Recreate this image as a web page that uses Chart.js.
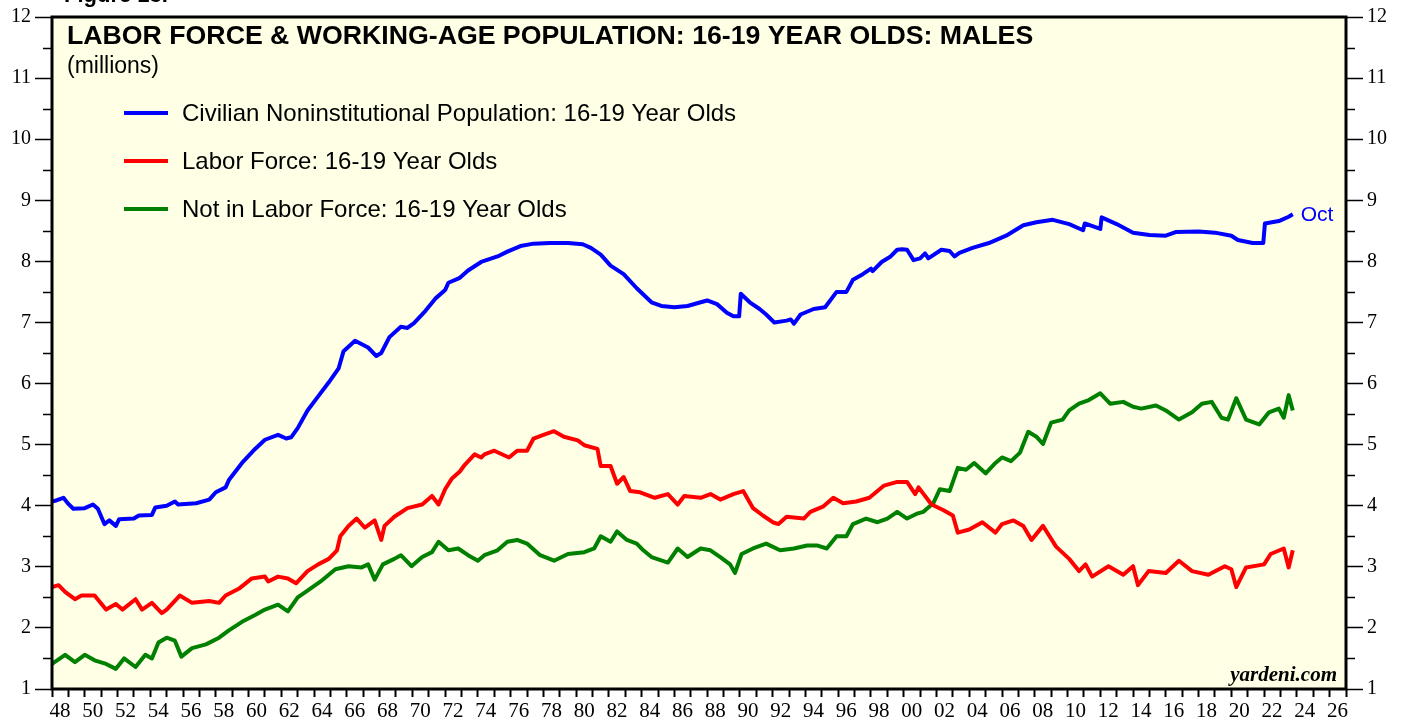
<!DOCTYPE html>
<html lang="en">
<head>
<meta charset="UTF-8">
<title>Labor Force & Working-Age Population: 16-19 Year Olds: Males</title>
<script src="https://cdn.jsdelivr.net/npm/chart.js"></script>
<style>
  body { margin: 0; background: #fff; }
</style>
</head>
<body>
<canvas id="laborChart" width="1407" height="719"></canvas>
<script>
// Millions. Dates are decimal years (Jan 1948 .. Oct 2023)
const popDates = [1948.0, 1948.3, 1948.7, 1949.0, 1949.3, 1950.0, 1950.5, 1950.8, 1951.2, 1951.5,
  1951.9, 1952.1, 1953.0, 1953.3, 1954.1, 1954.3, 1955.0, 1955.5, 1955.7, 1956.8,
  1957.6, 1958.0, 1958.6, 1958.8, 1959.6, 1960.4, 1961.0, 1961.8, 1962.3, 1962.6,
  1963.0, 1963.6, 1964.25, 1964.9, 1965.5, 1965.8, 1966.5, 1967.3, 1967.8, 1968.1,
  1968.6, 1969.3, 1969.7, 1970.1, 1970.8, 1971.4, 1972.0, 1972.2, 1972.9, 1973.4,
  1974.2, 1975.2, 1975.8, 1976.6, 1977.4, 1978.4, 1979.5, 1980.4, 1980.9, 1981.5,
  1982.1, 1982.9, 1983.7, 1984.6, 1985.2, 1986.0, 1986.8, 1987.6, 1988.0, 1988.6,
  1989.2, 1989.6, 1989.95, 1990.05, 1990.6, 1991.2, 1991.6, 1992.1, 1992.85, 1993.1,
  1993.3, 1993.7, 1994.5, 1995.2, 1995.9, 1996.5, 1996.9, 1997.5, 1998.0, 1998.1,
  1998.65, 1999.2, 1999.6, 1999.9, 2000.2, 2000.6, 2001.0, 2001.3, 2001.5, 2002.3,
  2002.8, 2003.1, 2003.4, 2004.2, 2005.2, 2006.25, 2007.3, 2008.1, 2009.1, 2010.1,
  2010.95, 2011.05, 2012.0, 2012.08, 2013.0, 2014.0, 2015.0, 2016.0, 2016.6, 2018.0,
  2019.0, 2020.0, 2020.4, 2021.3, 2021.95, 2022.05, 2022.9, 2023.5, 2023.75];
const popValues = [4.07, 4.09, 4.13, 4.03, 3.95, 3.96, 4.02, 3.95, 3.70, 3.76,
  3.67, 3.78, 3.79, 3.84, 3.85, 3.97, 4.00, 4.07, 4.02, 4.04,
  4.10, 4.22, 4.30, 4.42, 4.70, 4.93, 5.08, 5.16, 5.10, 5.12,
  5.27, 5.56, 5.79, 6.02, 6.25, 6.53, 6.70, 6.59, 6.45, 6.50,
  6.76, 6.93, 6.91, 6.99, 7.19, 7.39, 7.53, 7.65, 7.73, 7.85,
  7.99, 8.08, 8.16, 8.25, 8.29, 8.30, 8.30, 8.28, 8.22, 8.11,
  7.93, 7.79, 7.56, 7.33, 7.27, 7.25, 7.27, 7.33, 7.36, 7.30,
  7.16, 7.10, 7.10, 7.47, 7.33, 7.22, 7.13, 7.00, 7.03, 7.05,
  6.98, 7.13, 7.22, 7.25, 7.50, 7.50, 7.70, 7.79, 7.88, 7.84,
  7.99, 8.08, 8.19, 8.20, 8.19, 8.02, 8.05, 8.13, 8.05, 8.19,
  8.17, 8.08, 8.14, 8.22, 8.30, 8.42, 8.59, 8.64, 8.68, 8.61,
  8.51, 8.62, 8.53, 8.72, 8.61, 8.47, 8.43, 8.42, 8.48, 8.49,
  8.47, 8.42, 8.35, 8.30, 8.30, 8.62, 8.66, 8.73, 8.77];

const lfDates = [1948.0, 1948.4, 1948.8, 1949.4, 1949.8, 1950.6, 1951.3, 1951.9, 1952.3, 1953.1,
  1953.5, 1954.1, 1954.7, 1955.0, 1955.8, 1956.55, 1957.6, 1958.2, 1958.6, 1959.4,
  1960.2, 1961.0, 1961.2, 1961.8, 1962.4, 1962.9, 1963.6, 1964.25, 1964.9, 1965.4,
  1965.6, 1966.1, 1966.6, 1967.1, 1967.7, 1968.1, 1968.3, 1968.9, 1969.7, 1970.6,
  1971.2, 1971.6, 1972.0, 1972.4, 1972.9, 1973.2, 1973.8, 1974.2, 1974.4, 1975.0,
  1975.9, 1976.4, 1977.0, 1977.4, 1978.0, 1978.65, 1979.25, 1980.1, 1980.5, 1981.3,
  1981.5, 1982.1, 1982.5, 1982.9, 1983.3, 1983.9, 1984.8, 1985.6, 1986.2, 1986.6,
  1987.6, 1988.2, 1988.8, 1989.6, 1990.2, 1990.8, 1991.4, 1992.0, 1992.35, 1992.85,
  1993.9, 1994.3, 1995.1, 1995.7, 1996.3, 1997.1, 1997.9, 1998.8, 1999.6, 2000.2,
  2000.7, 2000.9, 2001.7, 2002.4, 2003.0, 2003.3, 2004.0, 2004.8, 2005.6, 2006.0,
  2006.7, 2007.3, 2007.8, 2008.5, 2008.9, 2009.3, 2010.1, 2010.7, 2011.1, 2011.5,
  2012.5, 2013.4, 2014.0, 2014.3, 2014.95, 2016.0, 2016.8, 2017.6, 2018.6, 2019.6,
  2020.0, 2020.3, 2020.9, 2022.0, 2022.4, 2023.2, 2023.5, 2023.75];
const lfValues = [2.67, 2.70, 2.59, 2.47, 2.53, 2.53, 2.30, 2.39, 2.30, 2.47,
  2.30, 2.41, 2.24, 2.30, 2.53, 2.41, 2.44, 2.41, 2.53, 2.64,
  2.81, 2.84, 2.76, 2.84, 2.81, 2.73, 2.93, 3.04, 3.13, 3.27,
  3.50, 3.67, 3.79, 3.64, 3.76, 3.44, 3.67, 3.82, 3.96, 4.02,
  4.16, 4.02, 4.27, 4.44, 4.56, 4.67, 4.84, 4.79, 4.84, 4.90,
  4.79, 4.90, 4.90, 5.10, 5.16, 5.22, 5.13, 5.07, 4.99, 4.93,
  4.65, 4.65, 4.36, 4.47, 4.24, 4.22, 4.13, 4.19, 4.02, 4.16,
  4.13, 4.19, 4.10, 4.19, 4.24, 3.96, 3.84, 3.73, 3.70, 3.82,
  3.79, 3.90, 3.99, 4.13, 4.04, 4.07, 4.13, 4.33, 4.39, 4.39,
  4.19, 4.30, 4.02, 3.93, 3.84, 3.56, 3.61, 3.73, 3.56, 3.70,
  3.76, 3.67, 3.44, 3.67, 3.50, 3.33, 3.13, 2.93, 3.04, 2.84,
  3.01, 2.87, 3.01, 2.70, 2.93, 2.90, 3.10, 2.93, 2.87, 3.01,
  2.96, 2.67, 2.99, 3.04, 3.21, 3.30, 2.99, 3.27];

const nlfDates = [1948.0, 1948.8, 1949.4, 1950.0, 1950.6, 1951.3, 1951.9, 1952.4, 1953.1, 1953.7,
  1954.1, 1954.5, 1955.0, 1955.5, 1955.9, 1956.55, 1957.4, 1958.2, 1958.8, 1959.6,
  1960.4, 1961.0, 1961.8, 1962.4, 1963.0, 1963.6, 1964.4, 1965.3, 1966.1, 1966.9,
  1967.3, 1967.7, 1968.2, 1968.9, 1969.3, 1969.95, 1970.6, 1971.2, 1971.6, 1972.2,
  1972.8, 1973.4, 1974.0, 1974.4, 1975.2, 1975.8, 1976.4, 1977.0, 1977.8, 1978.65,
  1979.5, 1980.5, 1981.1, 1981.5, 1982.1, 1982.5, 1983.1, 1983.7, 1984.1, 1984.6,
  1985.6, 1986.2, 1986.8, 1987.6, 1988.2, 1988.8, 1989.4, 1989.7, 1990.1, 1990.8,
  1991.6, 1992.45, 1993.3, 1994.1, 1994.7, 1995.3, 1995.9, 1996.5, 1996.9, 1997.7,
  1998.4, 1999.0, 1999.6, 2000.2, 2000.8, 2001.2, 2001.8, 2002.2, 2002.8, 2003.3,
  2003.8, 2004.3, 2005.0, 2005.6, 2006.0, 2006.55, 2007.1, 2007.6, 2008.1, 2008.5,
  2009.0, 2009.7, 2010.1, 2010.7, 2011.3, 2012.0, 2012.6, 2013.4, 2014.0, 2014.5,
  2015.4, 2016.0, 2016.8, 2017.6, 2018.2, 2018.8, 2019.4, 2019.8, 2020.3, 2020.9,
  2021.7, 2022.3, 2022.9, 2023.2, 2023.5, 2023.75];
const nlfValues = [1.41, 1.56, 1.44, 1.56, 1.47, 1.41, 1.33, 1.50, 1.36, 1.56,
  1.50, 1.76, 1.84, 1.79, 1.53, 1.67, 1.73, 1.84, 1.96, 2.10,
  2.21, 2.30, 2.38, 2.27, 2.50, 2.61, 2.76, 2.96, 3.01, 2.99,
  3.04, 2.79, 3.04, 3.13, 3.19, 3.01, 3.16, 3.24, 3.41, 3.27,
  3.30, 3.19, 3.10, 3.19, 3.27, 3.41, 3.44, 3.38, 3.19, 3.10,
  3.21, 3.24, 3.30, 3.50, 3.41, 3.58, 3.44, 3.38, 3.27, 3.16,
  3.07, 3.30, 3.16, 3.30, 3.27, 3.16, 3.04, 2.90, 3.21, 3.30,
  3.38, 3.27, 3.30, 3.35, 3.35, 3.30, 3.50, 3.50, 3.70, 3.79,
  3.73, 3.79, 3.90, 3.79, 3.87, 3.90, 4.04, 4.27, 4.24, 4.62,
  4.59, 4.70, 4.53, 4.70, 4.79, 4.73, 4.87, 5.21, 5.13, 5.01,
  5.36, 5.41, 5.56, 5.67, 5.73, 5.84, 5.67, 5.70, 5.62, 5.59,
  5.64, 5.56, 5.41, 5.53, 5.67, 5.70, 5.44, 5.41, 5.76, 5.41,
  5.33, 5.53, 5.59, 5.44, 5.81, 5.56];

const seriesLabels = [
  'Civilian Noninstitutional Population: 16-19 Year Olds',
  'Labor Force: 16-19 Year Olds',
  'Not in Labor Force: 16-19 Year Olds'
];
const seriesColors = ['#0000ff', '#ff0000', '#008000'];

const SANS = '"Liberation Sans", Arial, sans-serif';
const SERIF = '"Liberation Serif", "Times New Roman", serif';

function toPoints(dates, values) {
  return dates.map((d, i) => ({ x: d, y: values[i] }));
}

// background, frame, minor ticks, title, legend and notes
const decorations = {
  id: 'decorations',
  beforeDraw(chart) {
    const { ctx, chartArea: a } = chart;
    ctx.save();
    ctx.fillStyle = '#ffffe6';
    ctx.fillRect(a.left, a.top, a.right - a.left, a.bottom - a.top);
    ctx.restore();
  },
  afterDraw(chart) {
    const { ctx, chartArea: a } = chart;
    const y = chart.scales.y;
    ctx.save();

    // half-unit ticks on both value axes
    ctx.strokeStyle = '#000';
    ctx.lineWidth = 1.5;
    for (let v = 1.5; v < 12; v += 1) {
      const py = Math.round(y.getPixelForValue(v)) + 0.5;
      ctx.beginPath();
      ctx.moveTo(a.left - 9, py); ctx.lineTo(a.left, py);
      ctx.moveTo(a.right, py); ctx.lineTo(a.right + 9, py);
      ctx.stroke();
    }

    // frame
    ctx.lineWidth = 3;
    ctx.strokeRect(a.left, a.top, a.right - a.left, a.bottom - a.top);

    ctx.fillStyle = '#000';
    ctx.textBaseline = 'alphabetic';
    ctx.textAlign = 'left';
    ctx.font = 'bold 22px ' + SANS;
    ctx.fillText('Figure 13.', 64, 2);

    ctx.textBaseline = 'middle';
    ctx.font = 'bold 26.7px ' + SANS;
    ctx.fillText('LABOR FORCE & WORKING-AGE POPULATION: 16-19 YEAR OLDS: MALES', 67, 37);
    ctx.font = '23px ' + SANS;
    ctx.fillText('(millions)', 67, 67);

    // legend
    const rows = [113, 161, 209];
    ctx.font = '24px ' + SANS;
    chart.data.datasets.forEach((ds, i) => {
      ctx.strokeStyle = ds.borderColor;
      ctx.lineWidth = 4;
      ctx.beginPath();
      ctx.moveTo(124, rows[i]); ctx.lineTo(168, rows[i]);
      ctx.stroke();
      ctx.fillStyle = '#000';
      ctx.fillText(ds.label, 182, rows[i] + 1);
    });

    // last observation label
    const last = chart.getDatasetMeta(0).data.slice(-1)[0];
    ctx.fillStyle = seriesColors[0];
    ctx.font = '21px ' + SANS;
    ctx.fillText('Oct', last.x + 8, last.y + 1);

    ctx.fillStyle = '#000';
    ctx.textAlign = 'right';
    ctx.textBaseline = 'alphabetic';
    ctx.font = 'italic bold 21px ' + SERIF;
    ctx.fillText('yardeni.com', a.right - 9, a.bottom - 8);
    ctx.restore();
  }
};

const valueAxis = (position, width) => ({
  type: 'linear',
  position: position,
  min: 1,
  max: 12,
  afterFit(scale) { scale.width = width; },
  ticks: { stepSize: 1, padding: 4, color: '#000', font: { family: SERIF, size: 20 } },
  grid: { drawOnChartArea: false, tickLength: 17, tickColor: '#000', tickWidth: 1.5 },
  border: { display: false }
});

new Chart(document.getElementById('laborChart'), {
  type: 'line',
  data: {
    datasets: [
      { label: seriesLabels[0], data: toPoints(popDates, popValues), borderColor: seriesColors[0] },
      { label: seriesLabels[1], data: toPoints(lfDates, lfValues), borderColor: seriesColors[1] },
      { label: seriesLabels[2], data: toPoints(nlfDates, nlfValues), borderColor: seriesColors[2] }
    ]
  },
  options: {
    responsive: false,
    animation: false,
    devicePixelRatio: 1,
    layout: { padding: { top: 17, left: 0, right: 0, bottom: 0 } },
    elements: {
      point: { radius: 0 },
      line: { borderWidth: 4, tension: 0, borderJoinStyle: 'round' }
    },
    plugins: { legend: { display: false }, tooltip: { enabled: false } },
    scales: {
      x: {
        type: 'linear',
        min: 1948,
        max: 2027,
        afterFit(scale) { scale.height = 30; },
        ticks: {
          stepSize: 1,
          maxTicksLimit: 200,
          autoSkip: false,
          maxRotation: 0,
          labelOffset: 8,
          padding: 2,
          color: '#000',
          font: { family: SERIF, size: 21 },
          callback: v => (v % 2 === 0 ? String(v).slice(2) : '')
        },
        grid: { drawOnChartArea: false, tickLength: 8, tickColor: '#000', tickWidth: 2 },
        border: { display: false }
      },
      y: valueAxis('left', 52),
      y2: valueAxis('right', 61)
    }
  },
  plugins: [decorations]
});
</script>
</body>
</html>
